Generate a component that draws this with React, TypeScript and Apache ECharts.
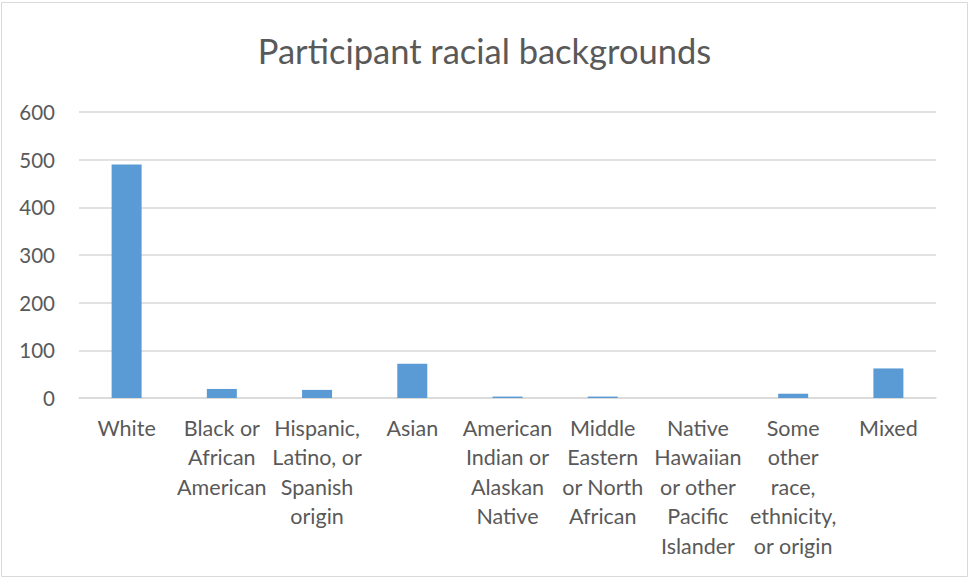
import React, { useEffect, useRef } from "react";
import * as echarts from "echarts";

const categories = [
  "White",
  "Black or\nAfrican\nAmerican",
  "Hispanic,\nLatino, or\nSpanish\norigin",
  "Asian",
  "American\nIndian or\nAlaskan\nNative",
  "Middle\nEastern\nor North\nAfrican",
  "Native\nHawaiian\nor other\nPacific\nIslander",
  "Some\nother\nrace,\nethnicity,\nor origin",
  "Mixed",
];
const counts = [490, 19, 17, 72, 3, 3, 0, 9, 62];
const yTicks = { min: 0, max: 600, interval: 100 };
const title = "Participant racial backgrounds";

export default function App() {
  const ref = useRef<HTMLDivElement>(null);
  useEffect(() => {
    if (!ref.current) return;
    const chart = echarts.init(ref.current, undefined, { renderer: "svg" });
    const font = "Lato, 'Noto Sans', sans-serif";
    chart.setOption({
      animation: false,
      textStyle: { fontFamily: font },
      title: {
        text: title,
        left: "center",
        top: 28,
        textStyle: { color: "#595959", fontSize: 34.5, fontWeight: "normal", fontFamily: font },
      },
      graphic: [
        {
          type: "rect",
          shape: { x: 1.5, y: 2.5, width: 966, height: 574 },
          style: { fill: "none", stroke: "#d9d9d9", lineWidth: 1 },
        },
      ],
      grid: { left: 79, right: 33, top: 112, bottom: 180, containLabel: false },
      xAxis: {
        type: "category",
        data: categories,
        axisLine: { show: true, lineStyle: { color: "#d9d9d9", width: 1.5 } },
        axisTick: { show: false },
        axisLabel: {
          interval: 0,
          color: "#595959",
          fontSize: 21.5,
          lineHeight: 29.5,
          margin: 15,
          fontFamily: font,
        },
      },
      yAxis: {
        type: "value",
        min: yTicks.min,
        max: yTicks.max,
        interval: yTicks.interval,
        axisLine: { show: false },
        axisTick: { show: false },
        splitLine: { lineStyle: { color: "#d9d9d9", width: 1.5 } },
        axisLabel: { color: "#595959", fontSize: 20.5, margin: 24, fontFamily: font },
      },
      series: [
        {
          type: "bar",
          data: counts,
          barWidth: 30,
          itemStyle: { color: "#5b9bd5" },
        },
      ],
    });
    return () => chart.dispose();
  }, []);
  return (
    <div
      ref={ref}
      style={{ position: "fixed", left: 0, top: 0, width: 969, height: 578, background: "#fff" }}
    />
  );
}
